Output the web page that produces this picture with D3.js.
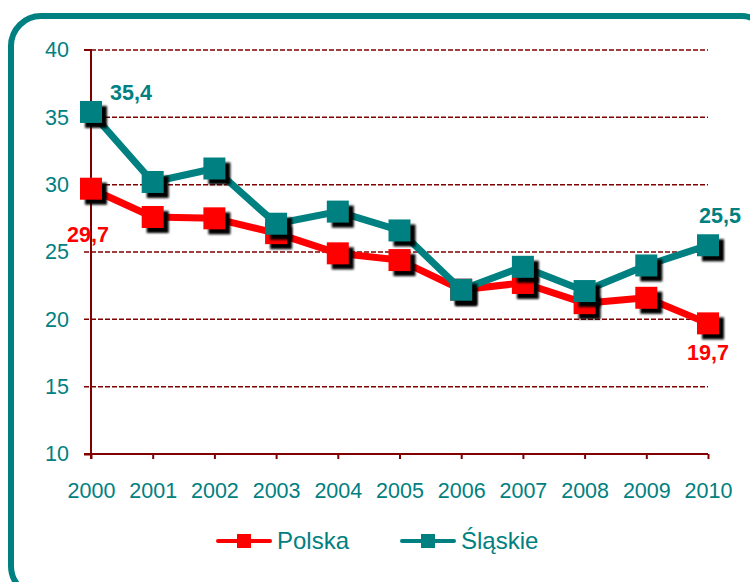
<!DOCTYPE html>
<html>
<head>
<meta charset="utf-8">
<script src="https://cdn.jsdelivr.net/npm/d3@7"></script>
<style>
  body { margin: 0; background: #fff; }
  svg { font-family: Arial, "Liberation Sans", sans-serif; }
</style>
</head>
<body>
<div id="chart"></div>
<script>
const years = [2000, 2001, 2002, 2003, 2004, 2005, 2006, 2007, 2008, 2009, 2010];
const polska = [29.7, 27.6, 27.5, 26.4, 24.9, 24.4, 22.2, 22.7, 21.2, 21.6, 19.7];
const slaskie = [35.4, 30.2, 31.2, 27.1, 28.0, 26.6, 22.2, 23.9, 22.1, 24.0, 25.5];
const yTicks = [10, 15, 20, 25, 30, 35, 40];

const width = 750, height = 582;
const teal = "#008080", red = "#ff0000", axisCol = "#800000";
const font = "Arial, 'Liberation Sans', sans-serif";

const svg = d3.select("#chart").append("svg")
    .attr("width", width).attr("height", height);

const defs = svg.append("defs");
defs.append("filter").attr("id", "blur")
    .append("feGaussianBlur").attr("stdDeviation", 1.2);

// frame
svg.append("rect")
    .attr("x", 11).attr("y", 16)
    .attr("width", 760).attr("height", 580)
    .attr("rx", 30).attr("ry", 30)
    .attr("fill", "none").attr("stroke", teal).attr("stroke-width", 6);

const x = d3.scaleLinear().domain([2000, 2010]).range([91, 708]);
const y = d3.scaleLinear().domain([10, 40]).range([454, 50]);

// grid
svg.append("g").selectAll("line")
    .data(yTicks.filter(d => d > 10))
    .enter().append("line")
    .attr("x1", 84).attr("x2", 708)
    .attr("y1", d => y(d)).attr("y2", d => y(d))
    .attr("stroke", axisCol).attr("stroke-width", 1.5)
    .attr("stroke-dasharray", "5,2");

// y axis
const yAxis = svg.append("g")
    .attr("transform", `translate(${x(2000)},0)`)
    .call(d3.axisLeft(y).tickValues(yTicks).tickSize(7).tickPadding(15));
// x axis
const xAxis = svg.append("g")
    .attr("transform", `translate(0,${y(10)})`)
    .call(d3.axisBottom(x).tickValues(years).tickFormat(d3.format("d")).tickSize(5).tickPadding(24));

[yAxis, xAxis].forEach(a => {
    a.attr("font-size", 21.5).attr("font-family", font);
    a.select(".domain").attr("stroke", axisCol).attr("stroke-width", 2);
    a.selectAll(".tick line").attr("stroke", axisCol).attr("stroke-width", 2);
    a.selectAll(".tick text").attr("fill", teal);
});
yAxis.selectAll(".tick").filter(d => d > 10).select("line").remove();
yAxis.select(".domain").attr("d", `M-7,${y(40)}H0V${y(10) + 5}`);
xAxis.select(".domain").attr("d", `M84,0H${x(2010)}`);

const line = d3.line().x((d, i) => x(years[i])).y(d => y(d));
const ms = 22;

function series(values, color) {
    const g = svg.append("g");
    g.append("path").datum(values)
        .attr("d", line).attr("fill", "none")
        .attr("stroke", color).attr("stroke-width", 7)
        .attr("stroke-linejoin", "round");
    g.selectAll(".shadow").data(values).enter().append("rect")
        .attr("x", (d, i) => x(years[i]) - ms / 2 + 5)
        .attr("y", d => y(d) - ms / 2 + 5)
        .attr("width", ms).attr("height", ms)
        .attr("fill", "#000").attr("filter", "url(#blur)");
    g.selectAll(".marker").data(values).enter().append("rect")
        .attr("x", (d, i) => x(years[i]) - ms / 2)
        .attr("y", d => y(d) - ms / 2)
        .attr("width", ms).attr("height", ms)
        .attr("fill", color);
}
series(polska, red);
series(slaskie, teal);

const fmt = v => v.toFixed(1).replace(".", ",");
const labels = svg.append("g").attr("font-weight", "bold").attr("font-size", 21.5).attr("font-family", font);
labels.append("text").attr("x", 110).attr("y", 100).attr("fill", teal).text(fmt(slaskie[0]));
labels.append("text").attr("x", 67).attr("y", 242).attr("fill", red).text(fmt(polska[0]));
labels.append("text").attr("x", 699).attr("y", 223).attr("fill", teal).text(fmt(slaskie[10]));
labels.append("text").attr("x", 687).attr("y", 360).attr("fill", red).text(fmt(polska[10]));

// legend
const legend = [{name: "Polska", color: red, x: 218}, {name: "Śląskie", color: teal, x: 402}];
const lg = svg.append("g").attr("font-family", font);
legend.forEach(l => {
    lg.append("line").attr("x1", l.x).attr("x2", l.x + 52)
        .attr("y1", 541).attr("y2", 541)
        .attr("stroke", l.color).attr("stroke-width", 4).attr("stroke-linecap", "round");
    lg.append("rect").attr("x", l.x + 19).attr("y", 534).attr("width", 14).attr("height", 14)
        .attr("fill", l.color);
    lg.append("text").attr("x", l.x + 59).attr("y", 549)
        .attr("fill", teal).attr("font-size", 24).text(l.name);
});
</script>
</body>
</html>
